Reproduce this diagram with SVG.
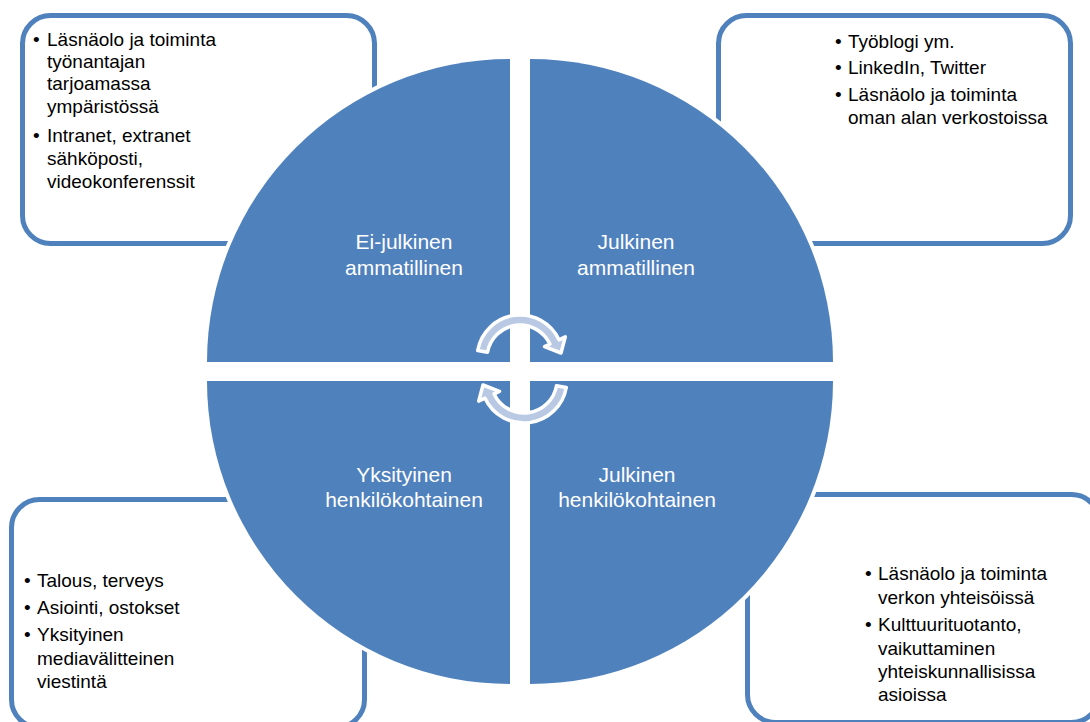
<svg xmlns="http://www.w3.org/2000/svg" width="1090" height="722" viewBox="0 0 1090 722">
<style>
.box{fill:#FFFFFF;stroke:#4F81BD;stroke-width:5}
.quad{fill:#4F81BD;stroke:#FFFFFF;stroke-width:8;paint-order:stroke}
.bt{font-family:"Liberation Sans",Arial,sans-serif;font-size:19px;fill:#000000}
.ql{font-family:"Liberation Sans",Arial,sans-serif;font-size:21px;fill:#FFFFFF;text-anchor:middle}
.arr{fill:#B9C9E4;stroke:#FFFFFF;stroke-width:3.5;stroke-linejoin:round}
</style>
<rect width="1090" height="722" fill="#FFFFFF"/>

<g id="box-top-left">
<rect class="box" x="22.5" y="15.5" width="352" height="228" rx="28"/>
<text class="bt"><tspan x="33" y="46">•</tspan><tspan x="47" y="46">Läsnäolo ja toiminta</tspan><tspan x="47" y="68">työnantajan</tspan><tspan x="47" y="90">tarjoamassa</tspan><tspan x="47" y="113">ympäristössä</tspan><tspan x="33" y="142">•</tspan><tspan x="47" y="142">Intranet, extranet</tspan><tspan x="47" y="165">sähköposti,</tspan><tspan x="47" y="188">videokonferenssit</tspan></text>
</g>

<g id="box-top-right">
<rect class="box" x="718.5" y="15.5" width="352" height="228" rx="28"/>
<text class="bt"><tspan x="835" y="48">•</tspan><tspan x="848" y="48">Työblogi ym.</tspan><tspan x="835" y="74">•</tspan><tspan x="848" y="74">LinkedIn, Twitter</tspan><tspan x="835" y="101">•</tspan><tspan x="848" y="101">Läsnäolo ja toiminta</tspan><tspan x="848" y="124">oman alan verkostoissa</tspan></text>
</g>

<g id="box-bottom-left">
<rect class="box" x="11.5" y="499.5" width="353" height="228" rx="28"/>
<text class="bt"><tspan x="24" y="587">•</tspan><tspan x="37" y="587">Talous, terveys</tspan><tspan x="24" y="614">•</tspan><tspan x="37" y="614">Asiointi, ostokset</tspan><tspan x="24" y="641">•</tspan><tspan x="37" y="641">Yksityinen</tspan><tspan x="37" y="665">mediavälitteinen</tspan><tspan x="37" y="688">viestintä</tspan></text>
</g>

<g id="box-bottom-right">
<rect class="box" x="747.5" y="494.5" width="352" height="228" rx="28"/>
<text class="bt"><tspan x="865" y="580">•</tspan><tspan x="878" y="580">Läsnäolo ja toiminta</tspan><tspan x="878" y="604">verkon yhteisöissä</tspan><tspan x="865" y="631">•</tspan><tspan x="878" y="631">Kulttuurituotanto,</tspan><tspan x="878" y="655">vaikuttaminen</tspan><tspan x="878" y="678">yhteiskunnallisissa</tspan><tspan x="878" y="701">asioissa</tspan></text>
</g>

<g id="quadrant-ei-julkinen-ammatillinen">
<path class="quad" d="M510,362 L207,362 A303,303 0 0 1 510,59 Z"/>
<text class="ql"><tspan x="404" y="249">Ei-julkinen</tspan><tspan x="404" y="275">ammatillinen</tspan></text>
</g>

<g id="quadrant-julkinen-ammatillinen">
<path class="quad" d="M530,362 L530,59 A303,303 0 0 1 833,362 Z"/>
<text class="ql"><tspan x="636" y="249">Julkinen</tspan><tspan x="636" y="275">ammatillinen</tspan></text>
</g>

<g id="quadrant-julkinen-henkilokohtainen">
<path class="quad" d="M530,381 L833,381 A303,303 0 0 1 530,684 Z"/>
<text class="ql"><tspan x="637" y="482">Julkinen</tspan><tspan x="637" y="507">henkilökohtainen</tspan></text>
</g>

<g id="quadrant-yksityinen-henkilokohtainen">
<path class="quad" d="M510,381 L510,684 A303,303 0 0 1 207,381 Z"/>
<text class="ql"><tspan x="404" y="482">Yksityinen</tspan><tspan x="404" y="507">henkilökohtainen</tspan></text>
</g>

<g id="connectors">
<path id="cycle-arrow-top" class="arr" d="M477.7,350.5 A43,43 0 0 1 559,339.8 L565.3,336.9 L561,353 L544.5,346.6 L549.9,344.1 A33,33 0 0 0 487.5,352.3 Z"/>
<use href="#cycle-arrow-top" transform="rotate(180 522 369)"/>
</g>
</svg>
